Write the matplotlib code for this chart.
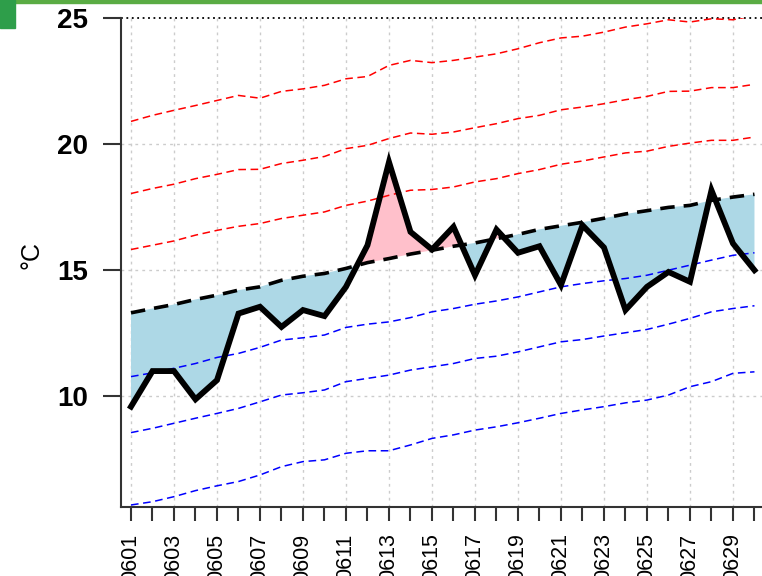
import matplotlib
matplotlib.use("Agg")
import matplotlib.pyplot as plt
from matplotlib.patches import Rectangle
import numpy as np

# Days of June
days = list(range(1, 31))
day_labels = ["06%02d" % d for d in days]

# Observed daily temperature
observed = [9.59, 11.0, 11.0, 9.88, 10.64, 13.28, 13.55, 12.75, 13.42, 13.18,
            14.34, 15.99, 19.29, 16.52, 15.82, 16.72, 14.80, 16.61, 15.69, 15.95,
            14.41, 16.78, 15.90, 13.42, 14.34, 14.93, 14.54, 18.17, 16.06, 15.0]

# Climatological mean
normal = [13.31, 13.48, 13.64, 13.84, 14.01, 14.21, 14.34, 14.60, 14.76, 14.87,
          15.07, 15.30, 15.46, 15.64, 15.79, 15.95, 16.08, 16.25, 16.42, 16.62,
          16.76, 16.90, 17.06, 17.23, 17.36, 17.49, 17.57, 17.77, 17.90, 18.01]

# Upper bands
red1 = [15.82, 15.99, 16.16, 16.39, 16.58, 16.74, 16.85, 17.05, 17.18, 17.31,
        17.57, 17.74, 17.97, 18.17, 18.20, 18.30, 18.50, 18.63, 18.83, 18.99,
        19.20, 19.33, 19.49, 19.65, 19.72, 19.91, 20.04, 20.15, 20.15, 20.28]
red2 = [18.04, 18.24, 18.41, 18.63, 18.80, 18.99, 19.00, 19.23, 19.36, 19.51,
        19.82, 19.95, 20.22, 20.44, 20.39, 20.48, 20.65, 20.81, 21.01, 21.14,
        21.36, 21.47, 21.60, 21.76, 21.89, 22.09, 22.10, 22.24, 22.24, 22.37]
red3 = [20.90, 21.14, 21.34, 21.53, 21.73, 21.93, 21.82, 22.09, 22.19, 22.33,
        22.59, 22.68, 23.12, 23.32, 23.23, 23.32, 23.45, 23.58, 23.78, 24.02,
        24.21, 24.28, 24.44, 24.64, 24.77, 24.93, 24.84, 24.97, 24.93, 25.10]

# Lower bands
blue1 = [10.78, 10.93, 11.11, 11.30, 11.54, 11.70, 11.94, 12.23, 12.32, 12.43,
         12.73, 12.86, 12.95, 13.12, 13.35, 13.48, 13.65, 13.78, 13.94, 14.14,
         14.34, 14.47, 14.58, 14.67, 14.80, 15.00, 15.20, 15.40, 15.59, 15.69]
blue2 = [8.56, 8.73, 8.93, 9.13, 9.32, 9.52, 9.78, 10.05, 10.14, 10.25,
         10.58, 10.71, 10.84, 11.04, 11.17, 11.30, 11.50, 11.59, 11.76, 11.96,
         12.16, 12.25, 12.39, 12.52, 12.65, 12.86, 13.09, 13.35, 13.48, 13.59]
blue3 = [5.69, 5.82, 6.02, 6.26, 6.45, 6.62, 6.88, 7.21, 7.41, 7.48,
         7.74, 7.84, 7.84, 8.07, 8.33, 8.47, 8.66, 8.79, 8.95, 9.13,
         9.32, 9.46, 9.59, 9.74, 9.85, 10.05, 10.38, 10.58, 10.91, 10.97]

y_ticks = [10, 15, 20, 25]

fig = plt.figure(figsize=(7.62, 5.76), dpi=100)

# green page header bits
fig.patches.append(Rectangle((0, 1 - 3 / 576), 1, 3 / 576, transform=fig.transFigure,
                             color="#5aac44", zorder=0))
fig.patches.append(Rectangle((0, 1 - 28 / 576), 15 / 762, 28 / 576,
                             transform=fig.transFigure, color="#2e9e4a", zorder=0))

ax = fig.add_axes([121 / 762, 69 / 576, 644 / 762, 489 / 576])

x = np.array(days)
obs = np.array(observed)
nrm = np.array(normal)

# shaded anomalies
ax.fill_between(x, obs, nrm, where=obs <= nrm, interpolate=True,
                color="lightblue", linewidth=0, zorder=2)
ax.fill_between(x, obs, nrm, where=obs >= nrm, interpolate=True,
                color="pink", linewidth=0, zorder=2)

dash = (0, (5, 3))
for band in (red1, red2, red3):
    ax.plot(x, band, color="red", linewidth=1.1, linestyle=dash, zorder=3)
for band in (blue1, blue2, blue3):
    ax.plot(x, band, color="blue", linewidth=1.1, linestyle=dash, zorder=3)

ax.plot(x, nrm, color="black", linewidth=2.6, linestyle=(0, (4, 2.5)), zorder=4)
ax.plot(x, obs, color="black", linewidth=4.2, solid_joinstyle="miter", zorder=5)

# axis ranges
ax.set_xlim(0.535, 30.49)
ax.set_ylim(5.61, 25)

# grid
for d in days[::2]:
    ax.axvline(d, color="#cccccc", linewidth=1, linestyle=(0, (2, 3)), zorder=1)
for t in y_ticks[:-1]:
    ax.axhline(t, color="#cccccc", linewidth=1, linestyle=(0, (2, 3)), zorder=1)
ax.axhline(25, color="black", linewidth=1.3, linestyle=(0, (1, 2)), zorder=1,
           clip_on=False)

# ticks
ax.set_xticks(days[::2])
ax.set_xticklabels(day_labels[::2], rotation=90, fontsize=15.5,
                   family="Liberation Sans")
ax.set_xticks(days[1::2], minor=True)
ax.set_yticks(y_ticks)
ax.set_yticklabels([str(t) for t in y_ticks], fontsize=20, fontweight="bold",
                   family="Liberation Sans")
ax.tick_params(axis="x", which="both", length=10, width=1.5, color="#333333",
               pad=9, direction="out")
ax.tick_params(axis="y", length=13, width=1.5, color="#333333", pad=11)

ax.set_ylabel("°C", fontsize=18, family="Liberation Sans")
ax.yaxis.set_label_coords(-0.12, 0.515)

for side in ("top", "right"):
    ax.spines[side].set_visible(False)
for side in ("left", "bottom"):
    ax.spines[side].set_color("#333333")
    ax.spines[side].set_linewidth(1.5)

fig.savefig("out.png", dpi=100)
